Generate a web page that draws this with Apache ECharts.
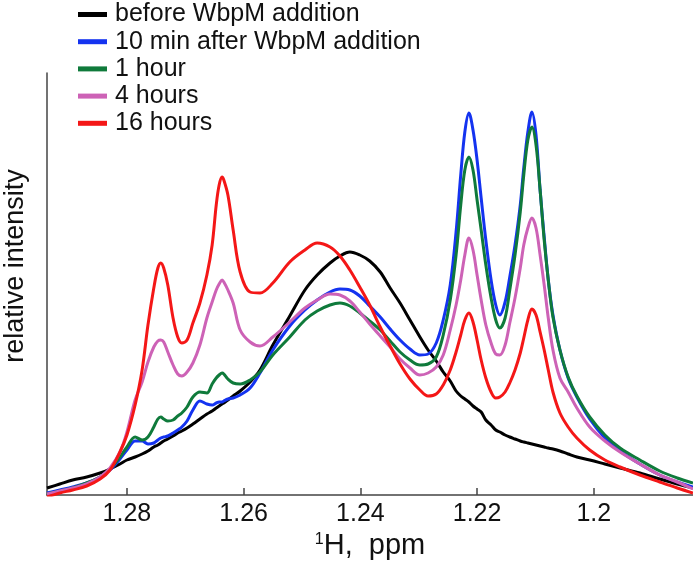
<!DOCTYPE html>
<html>
<head>
<meta charset="utf-8">
<script src="https://cdn.jsdelivr.net/npm/echarts@6/dist/echarts.min.js"></script>
<style>
html,body{margin:0;padding:0;background:#fff;}
#chart{width:693px;height:567px;}
</style>
</head>
<body>
<div id="chart"></div>
<script>
// chemical shift (ppm) sample positions
const ppm = [1.2937,1.2915,1.2893,1.2869,1.2846,1.2829,1.2812,1.2800,1.2786,1.2774,
1.2764,1.2754,1.2747,1.2742,1.2737,1.2730,1.2721,1.2713,1.2706,1.2697,
1.2687,1.2675,1.2663,1.2654,1.2647,1.2642,1.2637,1.2634,1.2627,1.2618,
1.2606,1.2589,1.2572,1.2550,1.2521,1.2495,1.2474,1.2452,1.2435,1.2418,
1.2401,1.2384,1.2366,1.2349,1.2332,1.2315,1.2298,1.2284,1.2270,1.2258,
1.2246,1.2236,1.2228,1.2221,1.2214,1.2207,1.2200,1.2193,1.2185,1.2176,
1.2168,1.2161,1.2152,1.2144,1.2135,1.2126,1.2120,1.2113,1.2106,1.2099,
1.2092,1.2085,1.2078,1.2070,1.2058,1.2044,1.2029,1.2007,1.1981,1.1955,
1.1921,1.1887,1.1857,1.1830];

const before = [7,11,15,18,22,26,31,35,38,41,44,48,50,52,54,56,59,62,64,67,
71,76,81,84,87,89,91,92,95,99,104,113,125,150,179,205,220,232,239,243,
240,234,223,207,192,175,158,145,134,123,114,104,99,96,93,89,86,83,75,70,
65,63,60,58,56,54,53,52,51,50,49,48,47,46,44,41,38,35,31,27,22,16,11,7];

const min10 = [2,5,8,12,18,25,36,45,54,54,51,52,55,57,58,59,62,65,68,74,
85,94,91,90,92,93,93,94,96,97,100,107,122,145,169,185,195,203,206,205,
199,189,178,166,155,146,140,141,152,175,210,263,320,363,382,365,335,297,255,215,
190,180,193,218,250,290,327,363,383,360,305,258,215,180,145,117,98,76,57,44,31,20,13,8];

const hour1 = [1,4,7,12,18,26,38,48,58,55,58,68,76,78,76,74,75,79,82,88,
98,103,102,111,117,120,122,121,116,112,111,115,123,140,158,175,184,190,192,189,
182,174,165,154,143,135,130,131,138,160,195,240,290,325,338,325,295,265,230,197,
175,167,177,205,240,283,320,355,368,350,305,255,215,178,145,118,99,78,60,47,35,24,17,12];

const hours4 = [1,4,7,11,18,27,43,63,95,113,133,148,154,155,153,143,130,121,119,123,
132,150,177,193,205,211,215,213,205,192,165,153,149,158,173,187,195,201,200,194,
183,171,159,148,136,127,120,122,128,140,165,190,215,240,257,245,220,195,170,152,
141,140,150,172,197,227,250,267,277,267,240,210,177,145,117,103,87,68,54,43,31,20,13,6];

const hours16 = [-2,2,5,9,16,25,43,60,90,125,170,207,227,232,227,210,177,158,152,155,
172,192,220,250,290,310,318,315,300,265,223,203,202,212,233,245,252,248,239,225,
208,190,168,149,131,116,105,99,101,110,125,143,160,175,182,173,155,135,117,103,
97,98,103,112,125,142,157,175,186,180,163,145,125,103,82,68,57,45,35,28,20,13,7,2];

const seriesNames = ['before WbpM addition','10 min after WbpM addition','1 hour','4 hours','16 hours'];
const seriesValues = [before, min10, hour1, hours4, hours16];
const seriesColors = ['#000000','#1433f0','#0f7a3b','#cd62b6','#f41717'];
const xTicks = [1.28, 1.26, 1.24, 1.22, 1.2];

const FONT = '"Liberation Sans", Arial, Helvetica, sans-serif';
const chart = echarts.init(document.getElementById('chart'), null, {renderer:'canvas'});

const series = seriesNames.map((name, k) => ({
  name: name,
  type: 'line',
  data: ppm.map((x, i) => [x, seriesValues[k][i]]),
  showSymbol: false,
  smooth: 0.35,
  lineStyle: {color: seriesColors[k], width: 3},
  itemStyle: {color: seriesColors[k]},
  z: 2 + k
}));

chart.setOption({
  animation: false,
  backgroundColor: '#ffffff',
  textStyle: {fontFamily: FONT},
  legend: {
    orient: 'vertical',
    left: 78,
    top: 2,
    padding: 0,
    icon: 'rect',
    itemWidth: 29,
    itemHeight: 5,
    itemGap: 2.2,
    data: seriesNames,
    textStyle: {fontFamily: FONT, fontSize: 25, color: '#111', lineHeight: 23, padding: [0,0,0,3]}
  },
  grid: {left: 47, right: 0, top: 73, bottom: 72, outerBoundsMode: 'none', containLabel: false},
  xAxis: {
    type: 'value',
    inverse: true,
    min: 1.1830,
    max: 1.2937,
    name: '{sup|1}H,  ppm',
    nameLocation: 'middle',
    nameGap: 31,
    nameTextStyle: {
      fontFamily: FONT, fontSize: 29, color: '#111',
      rich: {sup: {fontFamily: FONT, fontSize: 16, color: '#111', padding: [0,0,13,0]}}
    },
    axisLine: {show: true, lineStyle: {color: '#444', width: 1.5}},
    axisTick: {show: true, inside: true, length: 7, customValues: xTicks, lineStyle: {color: '#444', width: 1.5}},
    axisLabel: {show: true, customValues: xTicks, margin: 7, fontFamily: FONT, fontSize: 25, color: '#111',
      formatter: v => String(+(+v).toFixed(2))},
    splitLine: {show: false}
  },
  yAxis: {
    type: 'value',
    min: 0,
    max: 422,
    name: 'relative intensity',
    nameLocation: 'middle',
    nameRotate: 90,
    nameGap: 18,
    nameTextStyle: {fontFamily: FONT, fontSize: 27, color: '#111', padding: [0,0,0,36]},
    axisLine: {show: true, lineStyle: {color: '#444', width: 1.5}},
    axisTick: {show: false},
    axisLabel: {show: false},
    splitLine: {show: false}
  },
  series: series
});
</script>
</body>
</html>
